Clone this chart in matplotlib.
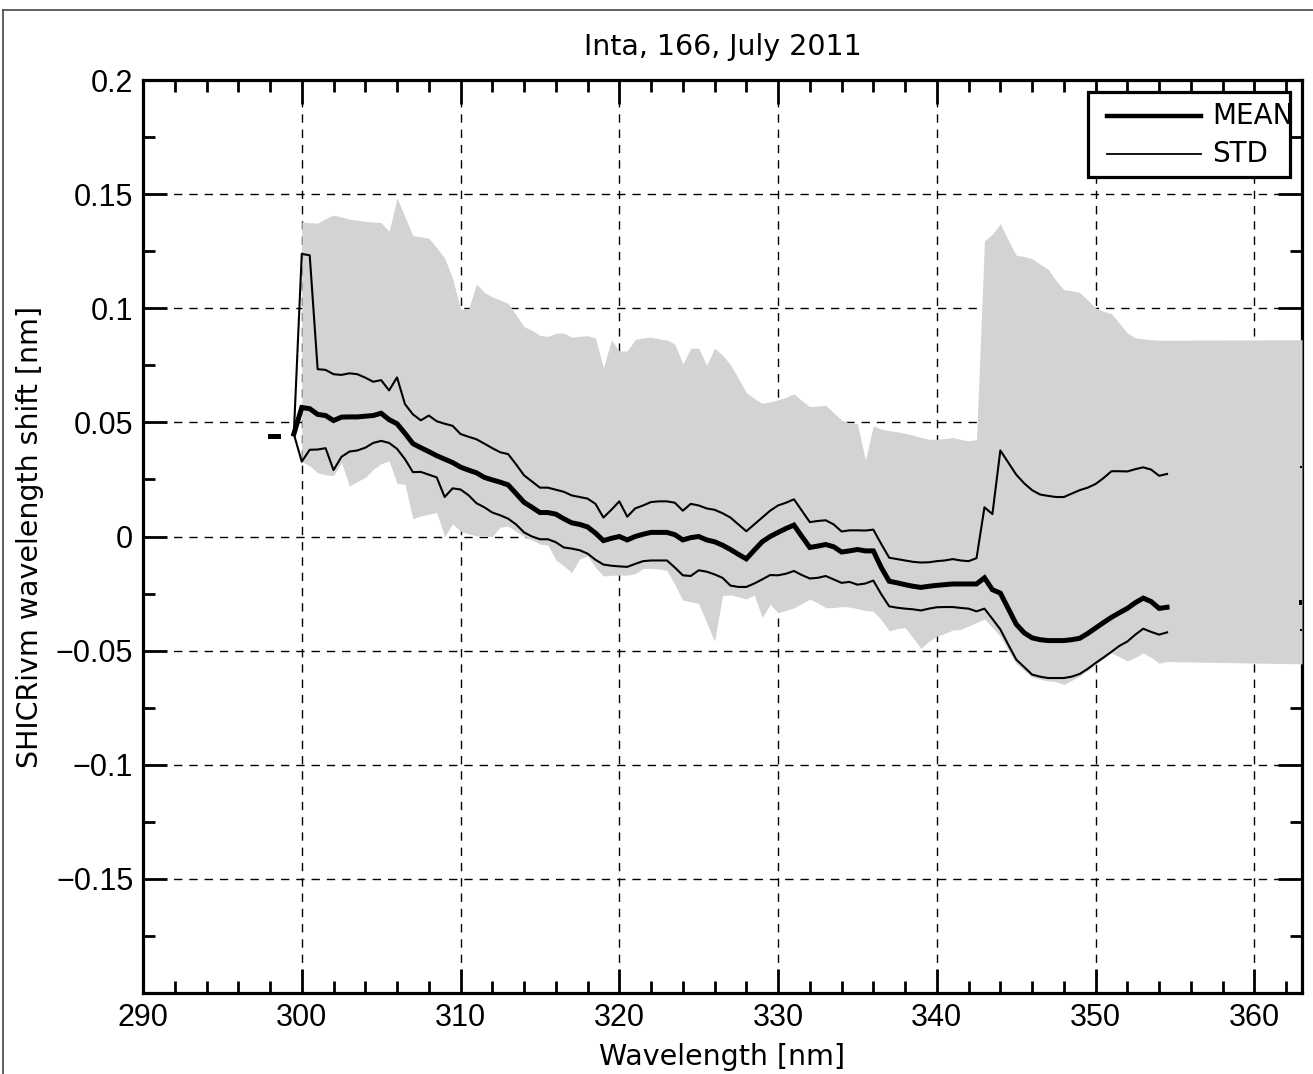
import numpy as np
import matplotlib
matplotlib.use("Agg")
import matplotlib.pyplot as plt
from matplotlib.lines import Line2D
from matplotlib.patches import Rectangle
from matplotlib.ticker import FixedLocator, FixedFormatter, MultipleLocator

# ---------------- data ----------------
title = "Inta, 166, July 2011"
xlabel = "Wavelength [nm]"
ylabel = "SHICRivm wavelength shift [nm]"
legend_labels = ["MEAN", "STD"]

# wavelength grid of the curves (0.5 nm sampling, 299.5 .. 354.5)
wl = np.arange(299.5, 354.75, 0.5)

mean = [
    0.0449, 0.0565, 0.056, 0.0535, 0.053, 0.0508, 0.0523, 0.0524, 0.0524, 0.0527,
    0.053, 0.054, 0.0512, 0.0494, 0.0452, 0.0407, 0.0389, 0.0372, 0.0354, 0.0339,
    0.0324, 0.0304, 0.0291, 0.0279, 0.0259, 0.0248, 0.0238, 0.0226, 0.0188, 0.015,
    0.0128, 0.0105, 0.0105, 0.0098, 0.0078, 0.006, 0.0053, 0.0042, 0.0015, -0.0018,
    -0.0008, 0.0, -0.0015, 0.0, 0.001, 0.0018, 0.0018, 0.0018, 0.0008, -0.0015,
    -0.0005, 0.0, -0.0015, -0.0023, -0.0038, -0.0057, -0.0078, -0.0098, -0.006, -0.0023,
    0.0, 0.0018, 0.0035, 0.005, 0.0, -0.0048, -0.0042, -0.0035, -0.0045, -0.0068,
    -0.0063, -0.0057, -0.0063, -0.0063, -0.0136, -0.0196, -0.0203, -0.0211, -0.0218, -0.0223,
    -0.0218, -0.0214, -0.0211, -0.0208, -0.0208, -0.0208, -0.0208, -0.0181, -0.0233, -0.0248,
    -0.0316, -0.0384, -0.0422, -0.0444, -0.0452, -0.0456, -0.0456, -0.0456, -0.0452, -0.0446,
    -0.0425, -0.0401, -0.0377, -0.0354, -0.0334, -0.0315, -0.029, -0.027, -0.0285, -0.0315, -0.031,
]

std_upper = [
    0.0449, 0.1238, 0.1232, 0.0733, 0.073, 0.0711, 0.0708, 0.0715, 0.0711, 0.0696,
    0.0678, 0.0685, 0.064, 0.0697, 0.058, 0.0535, 0.0509, 0.053, 0.0505, 0.0494,
    0.0485, 0.0449, 0.0437, 0.0426, 0.0407, 0.0387, 0.0369, 0.0361, 0.0316, 0.0268,
    0.0241, 0.0214, 0.0214, 0.0205, 0.0196, 0.018, 0.0173, 0.0166, 0.0143, 0.0083,
    0.0117, 0.0154, 0.0087, 0.0123, 0.0136, 0.0151, 0.0154, 0.0154, 0.0148, 0.0113,
    0.0143, 0.0136, 0.0123, 0.0117, 0.0102, 0.0083, 0.0053, 0.0023, 0.0053, 0.0083,
    0.0113, 0.0136, 0.0148, 0.0163, 0.0113, 0.0063, 0.0068, 0.0071, 0.0053, 0.0022,
    0.0027, 0.0027, 0.0026, 0.003, -0.0033, -0.0093, -0.0099, -0.0105, -0.0111, -0.0114,
    -0.0113, -0.0108, -0.0105, -0.0099, -0.0105, -0.0108, -0.0095, 0.0128, 0.0098, 0.0377,
    0.0324, 0.0271, 0.0233, 0.0203, 0.0184, 0.0178, 0.0173, 0.0173, 0.0188, 0.0203,
    0.0214, 0.023, 0.0256, 0.0286, 0.0286, 0.0285, 0.0295, 0.0303, 0.0293, 0.0266, 0.0274,
]

std_lower = [
    0.0449, 0.0328, 0.038, 0.0381, 0.0387, 0.0291, 0.0349, 0.0372, 0.0377, 0.0389,
    0.041, 0.0419, 0.041, 0.0384, 0.0339, 0.0282, 0.0283, 0.0271, 0.0259, 0.0173,
    0.0211, 0.0206, 0.0181, 0.0146, 0.0128, 0.0105, 0.0093, 0.0078, 0.0053, 0.0018,
    0.0, -0.0012, -0.0012, -0.0025, -0.0048, -0.0053, -0.006, -0.0075, -0.0102, -0.0123,
    -0.0128, -0.0131, -0.0133, -0.012, -0.0108, -0.0105, -0.0105, -0.0105, -0.0136, -0.017,
    -0.0173, -0.0148, -0.0154, -0.0166, -0.0181, -0.0215, -0.0221, -0.0221, -0.0206, -0.0188,
    -0.0169, -0.017, -0.0163, -0.0151, -0.0169, -0.0184, -0.0181, -0.0173, -0.0188, -0.0203,
    -0.0199, -0.0211, -0.0206, -0.0193, -0.0253, -0.0306, -0.0312, -0.0316, -0.0319, -0.0324,
    -0.0316, -0.031, -0.0309, -0.0309, -0.0313, -0.0316, -0.0328, -0.0316, -0.0361, -0.0407,
    -0.0474, -0.0539, -0.0572, -0.0605, -0.0614, -0.062, -0.062, -0.062, -0.0614, -0.0602,
    -0.058, -0.0554, -0.053, -0.0505, -0.0479, -0.046, -0.043, -0.0404, -0.0418, -0.043, -0.042,
]

# isolated mean samples left of the main curve and right at the axis edge
mean_left_wl = [298.0, 298.5]
mean_left = [0.044, 0.044]
edge_wl = [362.95, 363.6]
mean_edge = [-0.0287, -0.0287]
std_upper_edge = [0.0304, 0.0304]
std_lower_edge = [-0.041, -0.041]

# shaded envelope (min/max), 300 .. 354.5 at 0.5 nm, then 363
fill_wl = list(np.arange(300.0, 354.75, 0.5)) + [363.0]
fill_upper = [
    0.1378, 0.1375, 0.1373, 0.1393, 0.1408, 0.14, 0.139, 0.1386, 0.1381, 0.1378,
    0.1375, 0.1337, 0.1483, 0.14, 0.1318, 0.1313, 0.1307, 0.1265, 0.122, 0.113,
    0.0997, 0.0994, 0.1107, 0.1069, 0.105, 0.1036, 0.1021, 0.0971, 0.0919, 0.0904,
    0.0881, 0.0877, 0.089, 0.0892, 0.0873, 0.0877, 0.088, 0.087, 0.0738, 0.0861,
    0.0813, 0.0813, 0.0863, 0.087, 0.0873, 0.0866, 0.0861, 0.0843, 0.0756, 0.0825,
    0.0825, 0.075, 0.0825, 0.0795, 0.0753, 0.0693, 0.063, 0.0605, 0.0584, 0.059,
    0.0599, 0.061, 0.0625, 0.0595, 0.0569, 0.0572, 0.0575, 0.0542, 0.051, 0.0497,
    0.0494, 0.0334, 0.0485, 0.047, 0.0464, 0.0459, 0.0452, 0.0444, 0.0434, 0.0426,
    0.0426, 0.0429, 0.0434, 0.0425, 0.0419, 0.0425, 0.1295, 0.1325, 0.137, 0.1298,
    0.1232, 0.1227, 0.1217, 0.1193, 0.1172, 0.1122, 0.1081, 0.1077, 0.1069, 0.1036,
    0.1001, 0.0986, 0.0976, 0.0934, 0.0891, 0.087, 0.0866, 0.0862, 0.086, 0.086,
    0.0862,
]
fill_lower = [
    0.0328, 0.031, 0.0279, 0.027, 0.0267, 0.0324, 0.0221, 0.0241, 0.0259, 0.0294,
    0.0319, 0.0331, 0.0233, 0.0229, 0.0078, 0.009, 0.0098, 0.0105, 0.0, 0.0056,
    0.0023, 0.0012, 0.0003, 0.0, 0.0, 0.0041, 0.0045, 0.0023, 0.0, -0.0015,
    -0.0033, -0.0038, -0.0102, -0.0128, -0.0158, -0.0098, -0.0085, -0.0136, -0.0173, -0.017,
    -0.0169, -0.0169, -0.0163, -0.014, -0.014, -0.0143, -0.0148, -0.0211, -0.0279, -0.0286,
    -0.0294, -0.0377, -0.0459, -0.0259, -0.0256, -0.0264, -0.0274, -0.0256, -0.0354, -0.0297,
    -0.0334, -0.0324, -0.0313, -0.0294, -0.0274, -0.0291, -0.0312, -0.0312, -0.0307, -0.0309,
    -0.0316, -0.0324, -0.0328, -0.0364, -0.0414, -0.0404, -0.0399, -0.0444, -0.049, -0.0459,
    -0.0437, -0.0425, -0.041, -0.0407, -0.0392, -0.0377, -0.0361, -0.0399, -0.0437, -0.05,
    -0.0557, -0.0587, -0.0617, -0.0625, -0.0633, -0.0636, -0.0648, -0.063, -0.0611, -0.0588,
    -0.0562, -0.0535, -0.051, -0.0527, -0.0545, -0.053, -0.051, -0.053, -0.0555, -0.0548,
    -0.0558,
]

xtick_vals = [290, 300, 310, 320, 330, 340, 350, 360]
xtick_labels = ["290", "300", "310", "320", "330", "340", "350", "360"]
ytick_vals = [-0.2, -0.15, -0.1, -0.05, 0.0, 0.05, 0.1, 0.15, 0.2]
ytick_labels = ["", "\u22120.15", "\u22120.1", "\u22120.05", "0", "0.05", "0.1", "0.15", "0.2"]

# ---------------- figure ----------------
W, H = 1313, 1074
fig = plt.figure(figsize=(W / 100, H / 100), dpi=100)
ax = fig.add_axes([143 / W, (H - 993) / H, (1302 - 143) / W, (993 - 80) / H])

label_font = ["DejaVu Sans"]
label_weight = "normal"
tick_font = ["Liberation Sans", "DejaVu Sans"]

ax.set_axisbelow(True)
ax.fill_between(fill_wl, fill_lower, fill_upper, color="#d3d3d3", lw=0, zorder=3)

ax.plot(wl, std_upper, color="black", lw=1.5, zorder=4)
ax.plot(wl, std_lower, color="black", lw=1.5, zorder=4)
ax.plot(wl, mean, color="black", lw=3.6, zorder=5, solid_joinstyle="miter")
ax.plot(mean_left_wl, mean_left, color="black", lw=3.6, zorder=5)
ax.plot(edge_wl, mean_edge, color="black", lw=3.6, zorder=5)
ax.plot(edge_wl, std_upper_edge, color="black", lw=1.5, zorder=4)
ax.plot(edge_wl, std_lower_edge, color="black", lw=1.5, zorder=4)

ax.set_xlim(290, 363)
ax.set_ylim(-0.2, 0.2)

ax.xaxis.set_major_locator(FixedLocator(xtick_vals))
ax.xaxis.set_major_formatter(FixedFormatter(xtick_labels))
ax.xaxis.set_minor_locator(MultipleLocator(2))
ax.yaxis.set_major_locator(FixedLocator(ytick_vals))
ax.yaxis.set_major_formatter(FixedFormatter(ytick_labels))
ax.yaxis.set_minor_locator(MultipleLocator(0.025))

ax.tick_params(which="both", direction="in", top=True, right=True, color="black")
ax.tick_params(which="major", length=17, width=2.0, pad=7, labelsize=22)
ax.tick_params(which="minor", length=8.5, width=2.0)
for lab in ax.get_xticklabels() + ax.get_yticklabels():
    lab.set_family(tick_font)

ax.grid(True, which="major", color="black", lw=1.0, linestyle=(0, (6, 5)))
for sp in ax.spines.values():
    sp.set_linewidth(2.3)

ax.set_title(title, family=label_font, weight=label_weight, fontsize=20.5, pad=0,
             y=(993 - 47) / 913, va="center")
ax.set_xlabel(xlabel, family=label_font, weight=label_weight, fontsize=20.5)
ax.set_ylabel(ylabel, family=label_font, weight=label_weight, fontsize=20.5)
ax.xaxis.set_label_coords(0.5, (993 - 1057) / 913)
ax.yaxis.set_label_coords((30 - 143) / 1159, 0.5)
ax.xaxis.label.set_va("center")
ax.yaxis.label.set_va("center")

# legend box (drawn like the original: text overflowing, clipped by axes)
x0, x1 = (1088 - 143) / 1159, (1290 - 143) / 1159
y0, y1 = (993 - 177) / 913, (993 - 92) / 913
ax.add_patch(Rectangle((x0, y0), x1 - x0, y1 - y0, transform=ax.transAxes,
                       facecolor="white", edgecolor="black", lw=2.3, zorder=10))
hx0, hx1 = (1107 - 143) / 1159, (1201 - 143) / 1159
rows = [(993 - 116) / 913, (993 - 154) / 913]
widths = [3.2, 1.3]
for lab, yy, lw in zip(legend_labels, rows, widths):
    ax.add_line(Line2D([hx0, hx1], [yy, yy], transform=ax.transAxes, color="black",
                       lw=lw, zorder=11))
    ax.text((1212 - 143) / 1159, yy, lab, transform=ax.transAxes, va="center", ha="left",
            family=label_font, weight=label_weight, fontsize=20, zorder=11, clip_on=True)

# figure frame (thin border at left and top)
fig.add_artist(Line2D([3 / W, 3 / W], [0, 1 - 10 / H], transform=fig.transFigure,
                      color="#444444", lw=1.2))
fig.add_artist(Line2D([3 / W, 1], [1 - 10 / H, 1 - 10 / H], transform=fig.transFigure,
                      color="#444444", lw=1.2))

fig.savefig("out.png", dpi=100)
